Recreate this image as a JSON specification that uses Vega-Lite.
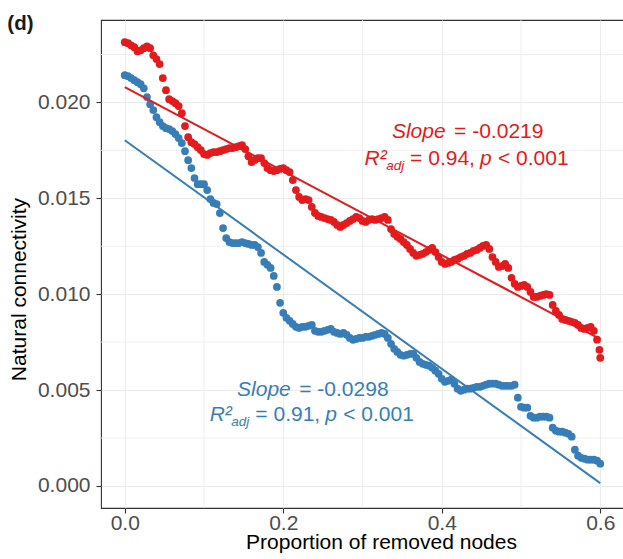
{
  "$schema": "https://vega.github.io/schema/vega-lite/v6.json",
  "width": 523,
  "height": 488,
  "autosize": {"type": "none"},
  "padding": {"left": 101, "top": 20, "right": 0, "bottom": 51},
  "background": "white",
  "config": {
    "font": "Liberation Sans",
    "view": {"stroke": "#333333", "strokeWidth": 1.1},
    "axis": {
      "grid": true, "gridColor": "#EBEBEB", "gridWidth": 1.1,
      "domain": false,
      "ticks": true, "tickSize": 5, "tickWidth": 1.1, "tickColor": "#333333",
      "labelFontSize": 21, "labelColor": "#4D4D4D",
      "labelFlush": false, "labelOverlap": false,
      "titleFontSize": 21, "titleFontWeight": "normal", "titleColor": "#000000"
    },
    "axisX": {
      "labelPadding": 16, "labelBaseline": "alphabetic",
      "titleX": 280, "titleY": 40, "titleBaseline": "alphabetic", "titleAlign": "center"
    },
    "axisY": {
      "labelPadding": 6, "labelBaseline": "middle",
      "titleX": -76, "titleY": 269, "titleBaseline": "alphabetic", "titleAlign": "center", "titleAngle": -90
    }
  },
  "title": {
    "text": "(d)",
    "anchor": "start",
    "frame": "group",
    "fontSize": 20.5,
    "fontWeight": "bold",
    "color": "#1a1a1a",
    "baseline": "alphabetic",
    "offset": 0,
    "dx": -93.7,
    "dy": 30.4
  },
  "datasets": {
    "pts": [
      {"g":"B","x":0,"y":0.02142},{"g":"B","x":0.004,"y":0.02137},{"g":"B","x":0.008,"y":0.02127},{"g":"B","x":0.012,"y":0.02116},{"g":"B","x":0.016,"y":0.02106},
      {"g":"B","x":0.02,"y":0.02095},{"g":"B","x":0.024,"y":0.02074},{"g":"B","x":0.028,"y":0.02028},{"g":"B","x":0.032,"y":0.01991},{"g":"B","x":0.036,"y":0.0196},
      {"g":"B","x":0.04,"y":0.01923},{"g":"B","x":0.044,"y":0.01897},{"g":"B","x":0.048,"y":0.01877},{"g":"B","x":0.052,"y":0.01866},{"g":"B","x":0.056,"y":0.01861},
      {"g":"B","x":0.06,"y":0.01851},{"g":"B","x":0.064,"y":0.01835},{"g":"B","x":0.068,"y":0.01814},{"g":"B","x":0.072,"y":0.01788},{"g":"B","x":0.076,"y":0.01746},
      {"g":"B","x":0.08,"y":0.01699},{"g":"B","x":0.084,"y":0.01658},{"g":"B","x":0.088,"y":0.01606},{"g":"B","x":0.092,"y":0.01574},{"g":"B","x":0.096,"y":0.01574},
      {"g":"B","x":0.1,"y":0.01574},{"g":"B","x":0.104,"y":0.01543},{"g":"B","x":0.108,"y":0.01496},{"g":"B","x":0.112,"y":0.01476},{"g":"B","x":0.116,"y":0.0147},
      {"g":"B","x":0.12,"y":0.01423},{"g":"B","x":0.124,"y":0.01345},{"g":"B","x":0.128,"y":0.01293},{"g":"B","x":0.132,"y":0.01272},{"g":"B","x":0.136,"y":0.01267},
      {"g":"B","x":0.14,"y":0.01267},{"g":"B","x":0.144,"y":0.01267},{"g":"B","x":0.148,"y":0.01272},{"g":"B","x":0.152,"y":0.01267},{"g":"B","x":0.156,"y":0.01262},
      {"g":"B","x":0.16,"y":0.01257},{"g":"B","x":0.164,"y":0.01257},{"g":"B","x":0.168,"y":0.01246},{"g":"B","x":0.172,"y":0.01215},{"g":"B","x":0.176,"y":0.01168},
      {"g":"B","x":0.18,"y":0.01153},{"g":"B","x":0.184,"y":0.01137},{"g":"B","x":0.188,"y":0.01095},{"g":"B","x":0.192,"y":0.01038},{"g":"B","x":0.196,"y":0.00955},
      {"g":"B","x":0.2,"y":0.00903},{"g":"B","x":0.204,"y":0.00877},{"g":"B","x":0.208,"y":0.00861},{"g":"B","x":0.212,"y":0.00845},{"g":"B","x":0.216,"y":0.0083},
      {"g":"B","x":0.22,"y":0.00824},{"g":"B","x":0.224,"y":0.0083},{"g":"B","x":0.228,"y":0.0083},{"g":"B","x":0.232,"y":0.00835},{"g":"B","x":0.236,"y":0.0084},
      {"g":"B","x":0.24,"y":0.00809},{"g":"B","x":0.244,"y":0.00804},{"g":"B","x":0.248,"y":0.00804},{"g":"B","x":0.252,"y":0.00809},{"g":"B","x":0.256,"y":0.00814},
      {"g":"B","x":0.26,"y":0.00819},{"g":"B","x":0.264,"y":0.00804},{"g":"B","x":0.268,"y":0.00798},{"g":"B","x":0.272,"y":0.00793},{"g":"B","x":0.276,"y":0.00798},
      {"g":"B","x":0.28,"y":0.00788},{"g":"B","x":0.284,"y":0.00772},{"g":"B","x":0.288,"y":0.00762},{"g":"B","x":0.292,"y":0.00767},{"g":"B","x":0.296,"y":0.00772},
      {"g":"B","x":0.3,"y":0.00772},{"g":"B","x":0.304,"y":0.00778},{"g":"B","x":0.308,"y":0.00778},{"g":"B","x":0.312,"y":0.00783},{"g":"B","x":0.316,"y":0.00788},
      {"g":"B","x":0.32,"y":0.00793},{"g":"B","x":0.324,"y":0.00798},{"g":"B","x":0.328,"y":0.00793},{"g":"B","x":0.332,"y":0.00772},{"g":"B","x":0.336,"y":0.00741},
      {"g":"B","x":0.34,"y":0.00715},{"g":"B","x":0.344,"y":0.00699},{"g":"B","x":0.348,"y":0.00684},{"g":"B","x":0.352,"y":0.00679},{"g":"B","x":0.356,"y":0.00684},
      {"g":"B","x":0.36,"y":0.00689},{"g":"B","x":0.364,"y":0.00689},{"g":"B","x":0.368,"y":0.00668},{"g":"B","x":0.372,"y":0.00647},{"g":"B","x":0.376,"y":0.00637},
      {"g":"B","x":0.38,"y":0.00632},{"g":"B","x":0.384,"y":0.00627},{"g":"B","x":0.388,"y":0.00616},{"g":"B","x":0.392,"y":0.00601},{"g":"B","x":0.396,"y":0.00585},
      {"g":"B","x":0.4,"y":0.00559},{"g":"B","x":0.404,"y":0.00543},{"g":"B","x":0.408,"y":0.00548},{"g":"B","x":0.412,"y":0.00554},{"g":"B","x":0.416,"y":0.00533},
      {"g":"B","x":0.42,"y":0.00507},{"g":"B","x":0.424,"y":0.00496},{"g":"B","x":0.428,"y":0.00502},{"g":"B","x":0.432,"y":0.00507},{"g":"B","x":0.436,"y":0.00507},
      {"g":"B","x":0.44,"y":0.00512},{"g":"B","x":0.444,"y":0.00517},{"g":"B","x":0.448,"y":0.00517},{"g":"B","x":0.452,"y":0.00522},{"g":"B","x":0.456,"y":0.00528},
      {"g":"B","x":0.46,"y":0.00533},{"g":"B","x":0.464,"y":0.00533},{"g":"B","x":0.468,"y":0.00533},{"g":"B","x":0.472,"y":0.00528},{"g":"B","x":0.476,"y":0.00522},
      {"g":"B","x":0.48,"y":0.00522},{"g":"B","x":0.484,"y":0.00522},{"g":"B","x":0.488,"y":0.00522},{"g":"B","x":0.492,"y":0.00528},{"g":"B","x":0.496,"y":0.0046},
      {"g":"B","x":0.5,"y":0.00413},{"g":"B","x":0.504,"y":0.00408},{"g":"B","x":0.508,"y":0.00408},{"g":"B","x":0.512,"y":0.00366},{"g":"B","x":0.516,"y":0.00356},
      {"g":"B","x":0.52,"y":0.00356},{"g":"B","x":0.524,"y":0.00361},{"g":"B","x":0.528,"y":0.00361},{"g":"B","x":0.532,"y":0.00361},{"g":"B","x":0.536,"y":0.00356},
      {"g":"B","x":0.54,"y":0.00304},{"g":"B","x":0.544,"y":0.00288},{"g":"B","x":0.548,"y":0.00283},{"g":"B","x":0.552,"y":0.00283},{"g":"B","x":0.556,"y":0.00278},
      {"g":"B","x":0.56,"y":0.00272},{"g":"B","x":0.564,"y":0.00257},{"g":"B","x":0.568,"y":0.00189},{"g":"B","x":0.572,"y":0.00158},{"g":"B","x":0.576,"y":0.00147},
      {"g":"B","x":0.58,"y":0.00142},{"g":"B","x":0.584,"y":0.00137},{"g":"B","x":0.588,"y":0.00137},{"g":"B","x":0.592,"y":0.00137},{"g":"B","x":0.596,"y":0.00132},
      {"g":"B","x":0.6,"y":0.00116},

      {"g":"A","x":0,"y":0.02314},{"g":"A","x":0.004,"y":0.02309},{"g":"A","x":0.008,"y":0.02298},{"g":"A","x":0.012,"y":0.02288},{"g":"A","x":0.016,"y":0.02267},
      {"g":"A","x":0.02,"y":0.02272},{"g":"A","x":0.024,"y":0.02283},{"g":"A","x":0.028,"y":0.02293},{"g":"A","x":0.032,"y":0.02283},{"g":"A","x":0.036,"y":0.02246},
      {"g":"A","x":0.04,"y":0.02226},{"g":"A","x":0.044,"y":0.022},{"g":"A","x":0.048,"y":0.02127},{"g":"A","x":0.052,"y":0.02064},{"g":"A","x":0.056,"y":0.02017},
      {"g":"A","x":0.06,"y":0.02007},{"g":"A","x":0.064,"y":0.01996},{"g":"A","x":0.068,"y":0.01981},{"g":"A","x":0.072,"y":0.01944},{"g":"A","x":0.076,"y":0.01877},
      {"g":"A","x":0.08,"y":0.01819},{"g":"A","x":0.084,"y":0.01793},{"g":"A","x":0.088,"y":0.01783},{"g":"A","x":0.092,"y":0.01767},{"g":"A","x":0.096,"y":0.01752},
      {"g":"A","x":0.1,"y":0.01731},{"g":"A","x":0.104,"y":0.01726},{"g":"A","x":0.108,"y":0.01736},{"g":"A","x":0.112,"y":0.01741},{"g":"A","x":0.116,"y":0.01741},
      {"g":"A","x":0.12,"y":0.01746},{"g":"A","x":0.124,"y":0.01752},{"g":"A","x":0.128,"y":0.01757},{"g":"A","x":0.132,"y":0.01762},{"g":"A","x":0.136,"y":0.01762},
      {"g":"A","x":0.14,"y":0.01767},{"g":"A","x":0.144,"y":0.01772},{"g":"A","x":0.148,"y":0.01778},{"g":"A","x":0.152,"y":0.01757},{"g":"A","x":0.156,"y":0.0172},
      {"g":"A","x":0.16,"y":0.01689},{"g":"A","x":0.164,"y":0.017},{"g":"A","x":0.168,"y":0.0171},{"g":"A","x":0.172,"y":0.0171},{"g":"A","x":0.176,"y":0.01684},
      {"g":"A","x":0.18,"y":0.01658},{"g":"A","x":0.184,"y":0.01647},{"g":"A","x":0.188,"y":0.01642},{"g":"A","x":0.192,"y":0.01647},{"g":"A","x":0.196,"y":0.01653},
      {"g":"A","x":0.2,"y":0.01658},{"g":"A","x":0.204,"y":0.01647},{"g":"A","x":0.208,"y":0.01637},{"g":"A","x":0.212,"y":0.01595},{"g":"A","x":0.216,"y":0.01543},
      {"g":"A","x":0.22,"y":0.01507},{"g":"A","x":0.224,"y":0.01491},{"g":"A","x":0.228,"y":0.01496},{"g":"A","x":0.232,"y":0.01491},{"g":"A","x":0.236,"y":0.01455},
      {"g":"A","x":0.24,"y":0.01424},{"g":"A","x":0.244,"y":0.01408},{"g":"A","x":0.248,"y":0.01403},{"g":"A","x":0.252,"y":0.01397},{"g":"A","x":0.256,"y":0.01392},
      {"g":"A","x":0.26,"y":0.01387},{"g":"A","x":0.264,"y":0.01377},{"g":"A","x":0.268,"y":0.01361},{"g":"A","x":0.272,"y":0.01351},{"g":"A","x":0.276,"y":0.01361},
      {"g":"A","x":0.28,"y":0.01371},{"g":"A","x":0.284,"y":0.01382},{"g":"A","x":0.288,"y":0.01392},{"g":"A","x":0.292,"y":0.01403},{"g":"A","x":0.296,"y":0.01397},
      {"g":"A","x":0.3,"y":0.01382},{"g":"A","x":0.304,"y":0.01377},{"g":"A","x":0.308,"y":0.01387},{"g":"A","x":0.312,"y":0.01392},{"g":"A","x":0.316,"y":0.01387},
      {"g":"A","x":0.32,"y":0.01392},{"g":"A","x":0.324,"y":0.01397},{"g":"A","x":0.328,"y":0.01403},{"g":"A","x":0.332,"y":0.01387},{"g":"A","x":0.336,"y":0.0134},
      {"g":"A","x":0.34,"y":0.01314},{"g":"A","x":0.344,"y":0.01299},{"g":"A","x":0.348,"y":0.01288},{"g":"A","x":0.352,"y":0.01272},{"g":"A","x":0.356,"y":0.01257},
      {"g":"A","x":0.36,"y":0.01236},{"g":"A","x":0.364,"y":0.01215},{"g":"A","x":0.368,"y":0.012},{"g":"A","x":0.372,"y":0.01205},{"g":"A","x":0.376,"y":0.0121},
      {"g":"A","x":0.38,"y":0.0122},{"g":"A","x":0.384,"y":0.01231},{"g":"A","x":0.388,"y":0.01241},{"g":"A","x":0.392,"y":0.0122},{"g":"A","x":0.396,"y":0.01194},
      {"g":"A","x":0.4,"y":0.01168},{"g":"A","x":0.404,"y":0.01158},{"g":"A","x":0.408,"y":0.01163},{"g":"A","x":0.412,"y":0.01168},{"g":"A","x":0.416,"y":0.01179},
      {"g":"A","x":0.42,"y":0.01184},{"g":"A","x":0.424,"y":0.01194},{"g":"A","x":0.428,"y":0.012},{"g":"A","x":0.432,"y":0.0121},{"g":"A","x":0.436,"y":0.01215},
      {"g":"A","x":0.44,"y":0.01226},{"g":"A","x":0.444,"y":0.01231},{"g":"A","x":0.448,"y":0.01241},{"g":"A","x":0.452,"y":0.01252},{"g":"A","x":0.456,"y":0.01257},
      {"g":"A","x":0.46,"y":0.01236},{"g":"A","x":0.464,"y":0.01194},{"g":"A","x":0.468,"y":0.01168},{"g":"A","x":0.472,"y":0.01142},{"g":"A","x":0.476,"y":0.01147},
      {"g":"A","x":0.48,"y":0.01158},{"g":"A","x":0.484,"y":0.01137},{"g":"A","x":0.488,"y":0.01085},{"g":"A","x":0.492,"y":0.01054},{"g":"A","x":0.496,"y":0.01038},
      {"g":"A","x":0.5,"y":0.01043},{"g":"A","x":0.504,"y":0.01049},{"g":"A","x":0.508,"y":0.01038},{"g":"A","x":0.512,"y":0.01012},{"g":"A","x":0.516,"y":0.00986},
      {"g":"A","x":0.52,"y":0.00986},{"g":"A","x":0.524,"y":0.00991},{"g":"A","x":0.528,"y":0.00996},{"g":"A","x":0.532,"y":0.01001},{"g":"A","x":0.536,"y":0.00996},
      {"g":"A","x":0.54,"y":0.00944},{"g":"A","x":0.544,"y":0.00913},{"g":"A","x":0.548,"y":0.00892},{"g":"A","x":0.552,"y":0.00871},{"g":"A","x":0.556,"y":0.00866},
      {"g":"A","x":0.56,"y":0.00861},{"g":"A","x":0.564,"y":0.00856},{"g":"A","x":0.568,"y":0.00851},{"g":"A","x":0.572,"y":0.0084},{"g":"A","x":0.576,"y":0.00824},
      {"g":"A","x":0.58,"y":0.00819},{"g":"A","x":0.584,"y":0.00824},{"g":"A","x":0.588,"y":0.0083},{"g":"A","x":0.592,"y":0.00809},{"g":"A","x":0.596,"y":0.00763},
      {"g":"A","x":0.599,"y":0.0071},{"g":"A","x":0.6,"y":0.00668}
    ],
    "fits": [
      {"g":"A","x":0,"y":0.0208},{"g":"A","x":0.6,"y":0.00766},
      {"g":"B","x":0,"y":0.01803},{"g":"B","x":0.6,"y":0.00015}
    ],
    "minorX": [{"x":0.1},{"x":0.3},{"x":0.5}],
    "minorY": [{"y":0.0025},{"y":0.0075},{"y":0.0125},{"y":0.0175},{"y":0.0225}],
    "italicText": [
      {"g":"A","x":0.3371,"y":0.018125,"text":"Slope"},
      {"g":"A","x":0.3025,"y":0.016734,"text":"R²"},
      {"g":"A","x":0.4484,"y":0.016734,"text":"p"},
      {"g":"B","x":0.1417,"y":0.004667,"text":"Slope"},
      {"g":"B","x":0.1071,"y":0.003365,"text":"R²"},
      {"g":"B","x":0.253,"y":0.003365,"text":"p"}
    ],
    "plainText": [
      {"g":"A","x":0.4156,"y":0.018125,"text":"= -0.0219"},
      {"g":"A","x":0.3601,"y":0.016734,"text":"= 0.94,"},
      {"g":"A","x":0.471,"y":0.016734,"text":"< 0.001"},
      {"g":"B","x":0.2202,"y":0.004667,"text":"= -0.0298"},
      {"g":"B","x":0.1648,"y":0.003365,"text":"= 0.91,"},
      {"g":"B","x":0.2757,"y":0.003365,"text":"< 0.001"}
    ],
    "subText": [
      {"g":"A","x":0.3299,"y":0.0165,"text":"adj"},
      {"g":"B","x":0.1345,"y":0.00313,"text":"adj"}
    ]
  },
  "layer": [
    {
      "data": {"name": "minorX"},
      "mark": {"type": "rule", "color": "#EBEBEB", "strokeWidth": 0.8},
      "encoding": {
        "x": {"field": "x", "type": "quantitative", "scale": {"domain": [-0.03, 0.63], "nice": false, "zero": false}}
      }
    },
    {
      "data": {"name": "minorY"},
      "mark": {"type": "rule", "color": "#EBEBEB", "strokeWidth": 0.8},
      "encoding": {
        "y": {"field": "y", "type": "quantitative", "scale": {"domain": [-0.00115, 0.0243], "nice": false, "zero": false}}
      }
    },
    {
      "data": {"name": "pts"},
      "mark": {"type": "circle", "size": 60, "opacity": 1},
      "encoding": {
        "x": {
          "field": "x", "type": "quantitative",
          "scale": {"domain": [-0.03, 0.63], "nice": false, "zero": false},
          "axis": {"values": [0, 0.2, 0.4, 0.6], "format": ".1f", "title": "Proportion of removed nodes"}
        },
        "y": {
          "field": "y", "type": "quantitative",
          "scale": {"domain": [-0.00115, 0.0243], "nice": false, "zero": false},
          "axis": {"values": [0, 0.005, 0.01, 0.015, 0.02], "format": ".3f", "title": "Natural connectivity"}
        },
        "color": {"field": "g", "type": "nominal", "legend": null, "scale": {"domain": ["A", "B"], "range": ["#E41A1C", "#377EB8"]}},
        "order": {"field": "g", "sort": "descending"}
      }
    },
    {
      "data": {"name": "fits"},
      "mark": {"type": "line", "strokeWidth": 2},
      "encoding": {
        "x": {"field": "x", "type": "quantitative"},
        "y": {"field": "y", "type": "quantitative"},
        "detail": {"field": "g"},
        "color": {"field": "g", "type": "nominal", "legend": null}
      }
    },
    {
      "data": {"name": "italicText"},
      "mark": {"type": "text", "fontSize": 21, "fontStyle": "italic", "align": "left", "baseline": "alphabetic"},
      "encoding": {
        "x": {"field": "x", "type": "quantitative"},
        "y": {"field": "y", "type": "quantitative"},
        "text": {"field": "text"},
        "color": {"field": "g", "type": "nominal", "legend": null}
      }
    },
    {
      "data": {"name": "plainText"},
      "mark": {"type": "text", "fontSize": 21, "align": "left", "baseline": "alphabetic"},
      "encoding": {
        "x": {"field": "x", "type": "quantitative"},
        "y": {"field": "y", "type": "quantitative"},
        "text": {"field": "text"},
        "color": {"field": "g", "type": "nominal", "legend": null}
      }
    },
    {
      "data": {"name": "subText"},
      "mark": {"type": "text", "fontSize": 13.5, "fontStyle": "italic", "align": "left", "baseline": "alphabetic"},
      "encoding": {
        "x": {"field": "x", "type": "quantitative"},
        "y": {"field": "y", "type": "quantitative"},
        "text": {"field": "text"},
        "color": {"field": "g", "type": "nominal", "legend": null}
      }
    }
  ]
}
